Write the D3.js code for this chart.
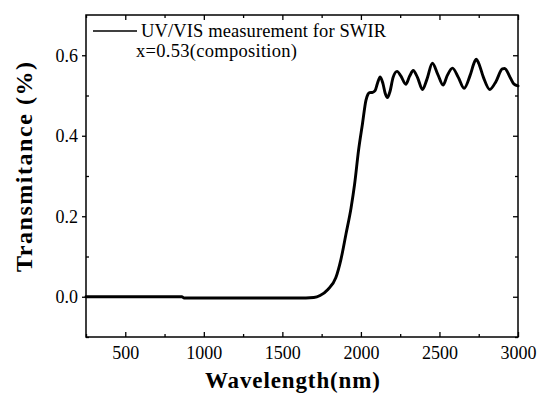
<!DOCTYPE html>
<html><head><meta charset="utf-8">
<script src="https://cdn.jsdelivr.net/npm/d3@7"></script>
<style>html,body{margin:0;padding:0;background:#fff;}svg{display:block;} svg text{font-family:"Liberation Serif","Times New Roman",serif;}</style>
</head><body>
<script>
const wavelength = [250, 400, 600, 800, 860, 875, 1000, 1200, 1400, 1600, 1650, 1700, 1740, 1790, 1840, 1873, 1905, 1937, 1960, 1985, 2010, 2032, 2045, 2055, 2075, 2090, 2105, 2123, 2140, 2155, 2169, 2185, 2205, 2230, 2255, 2286, 2310, 2333, 2360, 2392, 2420, 2455, 2490, 2523, 2550, 2583, 2620, 2657, 2695, 2725, 2735, 2750, 2780, 2820, 2860, 2900, 2915, 2950, 2975, 3000];
const transmittance = [0.0, 0.0, 0.0, 0.0, 0.0, -0.003, -0.003, -0.003, -0.003, -0.003, -0.003, -0.002, 0.003, 0.018, 0.047, 0.093, 0.156, 0.22, 0.28, 0.364, 0.43, 0.488, 0.503, 0.507, 0.508, 0.512, 0.53, 0.546, 0.53, 0.505, 0.495, 0.51, 0.545, 0.56, 0.548, 0.528, 0.548, 0.562, 0.545, 0.515, 0.54, 0.58, 0.552, 0.526, 0.55, 0.568, 0.545, 0.518, 0.55, 0.585, 0.59, 0.58, 0.545, 0.515, 0.535, 0.566, 0.567, 0.545, 0.528, 0.524];
const xTicks = [500, 1000, 1500, 2000, 2500, 3000];
const xMinor = [250, 750, 1250, 1750, 2250, 2750];
const yTicks = [0.0, 0.2, 0.4, 0.6];
const yMinor = [-0.1, 0.1, 0.3, 0.5];
const legendLabels = ["UV/VIS measurement for SWIR", "x=0.53(composition)"];
const xTitle = "Wavelength(nm)";
const yTitle = "Transmitance (%)";

const W = 538, H = 395;
const L = 86, R = 518, T = 15, B = 337;
const font = "Liberation Serif, Times New Roman, serif";

const svg = d3.select("body").append("svg").attr("width", W).attr("height", H);
const x = d3.scaleLinear().domain([250, 3000]).range([L, R]);
const y = d3.scaleLinear().domain([-0.1, 0.7]).range([B, T]);

svg.append("rect").attr("x", L).attr("y", T).attr("width", R - L).attr("height", B - T)
  .attr("fill", "none").attr("stroke", "#000").attr("stroke-width", 1.5);

function styleAxis(g) {
  g.attr("font-family", font).attr("font-size", 18);
  g.select(".domain").remove();
  g.selectAll("line").attr("stroke", "#000").attr("stroke-width", 1.3);
  g.selectAll("text").attr("fill", "#000").attr("font-family", font);
}

svg.append("g").attr("transform", `translate(0,${B})`)
  .call(d3.axisBottom(x).tickValues(xTicks).tickSize(-5).tickPadding(9).tickFormat(d3.format("d")))
  .call(styleAxis);
svg.append("g").attr("transform", `translate(0,${B})`)
  .call(d3.axisBottom(x).tickValues(xMinor).tickSize(-3).tickFormat(""))
  .call(styleAxis);
svg.append("g").attr("transform", `translate(0,${T})`)
  .call(d3.axisTop(x).tickValues(xTicks).tickSize(-5).tickFormat(""))
  .call(styleAxis);
svg.append("g").attr("transform", `translate(0,${T})`)
  .call(d3.axisTop(x).tickValues(xMinor).tickSize(-3).tickFormat(""))
  .call(styleAxis);
svg.append("g").attr("transform", `translate(${L},0)`)
  .call(d3.axisLeft(y).tickValues(yTicks).tickSize(4).tickPadding(4).tickFormat(d3.format(".1f")))
  .call(styleAxis);
svg.append("g").attr("transform", `translate(${L},0)`)
  .call(d3.axisLeft(y).tickValues(yMinor).tickSize(-3).tickFormat(""))
  .call(styleAxis);
svg.append("g").attr("transform", `translate(${R},0)`)
  .call(d3.axisRight(y).tickValues(yTicks).tickSize(-5).tickFormat(""))
  .call(styleAxis);
svg.append("g").attr("transform", `translate(${R},0)`)
  .call(d3.axisRight(y).tickValues(yMinor).tickSize(-3).tickFormat(""))
  .call(styleAxis);

const data = wavelength.map((w, i) => [w, transmittance[i]]);
svg.append("path").datum(data)
  .attr("fill", "none").attr("stroke", "#000").attr("stroke-width", 2.9)
  .attr("stroke-linejoin", "round").attr("stroke-linecap", "round")
  .attr("d", d3.line().x(d => x(d[0])).y(d => y(d[1])).curve(d3.curveMonotoneX));

svg.append("line").attr("x1", 93).attr("x2", 137).attr("y1", 31).attr("y2", 31)
  .attr("stroke", "#000").attr("stroke-width", 1.6);
svg.append("text").attr("x", 141).attr("y", 37).text(legendLabels[0])
  .attr("font-size", 18.5).attr("textLength", 245).attr("lengthAdjust", "spacing");
svg.append("text").attr("x", 136).attr("y", 57).text(legendLabels[1])
  .attr("font-size", 18.5).attr("textLength", 161).attr("lengthAdjust", "spacing");

svg.append("text").attr("x", 205).attr("y", 388)
  .attr("font-weight", "bold").attr("font-size", 23)
  .attr("textLength", 175).attr("lengthAdjust", "spacing").text(xTitle);
svg.append("text").attr("transform", `translate(32,272) rotate(-90)`)
  .attr("font-weight", "bold").attr("font-size", 24)
  .attr("textLength", 210).attr("lengthAdjust", "spacing").text(yTitle);
</script>
</body></html>
